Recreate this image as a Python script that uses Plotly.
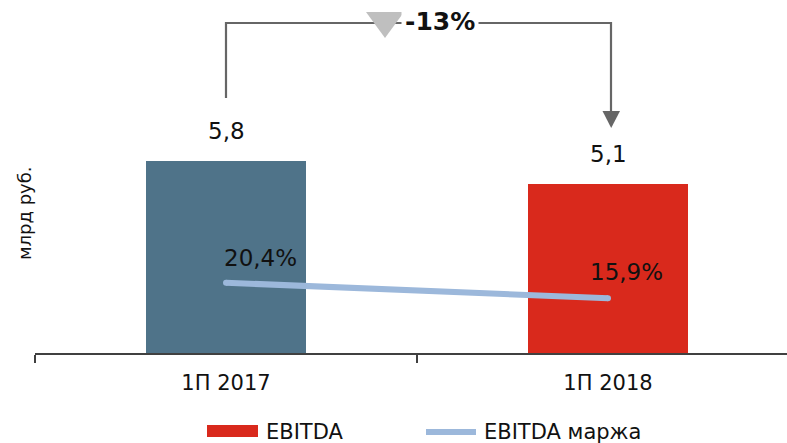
import plotly.graph_objects as go

categories = ["1П 2017", "1П 2018"]
ebitda = [5.8, 5.1]
ebitda_labels = ["5,8", "5,1"]
margin = [20.4, 15.9]
margin_labels = ["20,4%", "15,9%"]
bar_colors = ["#4f7389", "#d9291c"]
change_label = "-13%"
legend_names = ["EBITDA", "EBITDA маржа"]
y_title = "млрд руб."

W, H = 787, 443
L, B = 35, 90
PW, PH = W - L, H - B
XSCALE = 382.0


def xp(px):
    return (px - L) / PW


def yp(py):
    return (PH - py) / PH


FONT = "DejaVu Sans, Verdana, sans-serif"
LINE_COLOR = "#9cb8db"
TXT = "#111111"

fig = go.Figure()
fig.add_trace(go.Bar(x=categories, y=ebitda, marker=dict(color=bar_colors, line=dict(width=0)),
                     width=0.42, showlegend=False, hoverinfo="skip"))
fig.add_trace(go.Scatter(x=categories, y=margin, yaxis="y2", mode="lines+markers",
                         line=dict(color=LINE_COLOR, width=6),
                         marker=dict(size=6, color=LINE_COLOR),
                         showlegend=False, hoverinfo="skip"))

annotations = []
for c, v, t in zip(categories, ebitda, ebitda_labels):
    annotations.append(dict(x=c, y=v, xref="x", yref="y", text=t, showarrow=False,
                            yshift=30, xanchor="center", yanchor="middle",
                            font=dict(family=FONT, size=23, color=TXT)))
shifts = [(34, 25), (18, 26)]
for (c, v, t), (dx, dy) in zip(zip(categories, margin, margin_labels), shifts):
    annotations.append(dict(x=c, y=v, xref="x", yref="y2", text=t, showarrow=False,
                            xshift=dx, yshift=dy, xanchor="center", yanchor="middle",
                            font=dict(family=FONT, size=23, color=TXT)))

# change bracket label
annotations.append(dict(x=xp(440), y=yp(22), xref="paper", yref="paper", text="<b>" + change_label + "</b>",
                        showarrow=False, bgcolor="white", borderpad=3,
                        xanchor="center", yanchor="middle",
                        font=dict(family=FONT, size=25, color=TXT)))
# y title
annotations.append(dict(x=xp(24), y=yp(213), xref="paper", yref="paper", text=y_title,
                        showarrow=False, textangle=-90, xanchor="center", yanchor="middle",
                        font=dict(family=FONT, size=18, color=TXT)))
# legend text
annotations.append(dict(x=xp(264), y=yp(432), xref="paper", yref="paper", text=legend_names[0],
                        showarrow=False, xanchor="left", yanchor="middle",
                        font=dict(family=FONT, size=21, color=TXT)))
annotations.append(dict(x=xp(482), y=yp(432), xref="paper", yref="paper", text=legend_names[1],
                        showarrow=False, xanchor="left", yanchor="middle",
                        font=dict(family=FONT, size=21, color=TXT)))

GRAY = "#666666"
shapes = [
    # bracket
    dict(type="path", xref="paper", yref="paper",
         path=f"M {xp(226)},{yp(98)} L {xp(226)},{yp(23)} L {xp(611)},{yp(23)} L {xp(611)},{yp(114)}",
         line=dict(color=GRAY, width=2.2)),
    # arrow head
    dict(type="path", xref="paper", yref="paper",
         path=f"M {xp(602.5)},{yp(111)} L {xp(620)},{yp(111)} L {xp(611.2)},{yp(128)} Z",
         fillcolor=GRAY, line=dict(width=0)),
    # triangle marker
    dict(type="path", xref="paper", yref="paper",
         path=f"M {xp(366)},{yp(12)} L {xp(404)},{yp(12)} L {xp(385)},{yp(38)} Z",
         fillcolor="#bfbfbf", line=dict(width=0)),
    # legend symbols
    dict(type="rect", xref="paper", yref="paper",
         x0=xp(207), x1=xp(258), y0=yp(437), y1=yp(425),
         fillcolor=bar_colors[1], line=dict(width=0)),
    dict(type="line", xref="paper", yref="paper",
         x0=xp(426), x1=xp(476), y0=yp(432), y1=yp(432),
         line=dict(color=LINE_COLOR, width=6)),
]

fig.update_layout(
    width=W, height=H,
    margin=dict(l=L, r=0, t=0, b=B, pad=0),
    paper_bgcolor="white", plot_bgcolor="white",
    font=dict(family=FONT, color=TXT),
    showlegend=False,
    bargap=0,
    xaxis=dict(range=[-0.5, -0.5 + PW / XSCALE], showline=True, linecolor="#404040", linewidth=1.5,
               ticks="outside", tickson="boundaries", ticklen=8, tickwidth=1.5, tickcolor="#404040",
               ticklabelstandoff=10,
               showgrid=False, zeroline=False,
               tickfont=dict(family=FONT, size=21, color=TXT)),
    yaxis=dict(range=[0, 10.66], visible=False, showgrid=False, zeroline=False),
    yaxis2=dict(range=[0, 102.5], overlaying="y", visible=False, showgrid=False, zeroline=False),
    annotations=annotations,
    shapes=shapes,
)

fig.write_html("out.html", config={"displayModeBar": False},
               post_script="document.body.style.margin='0';document.body.style.overflow='hidden';")
